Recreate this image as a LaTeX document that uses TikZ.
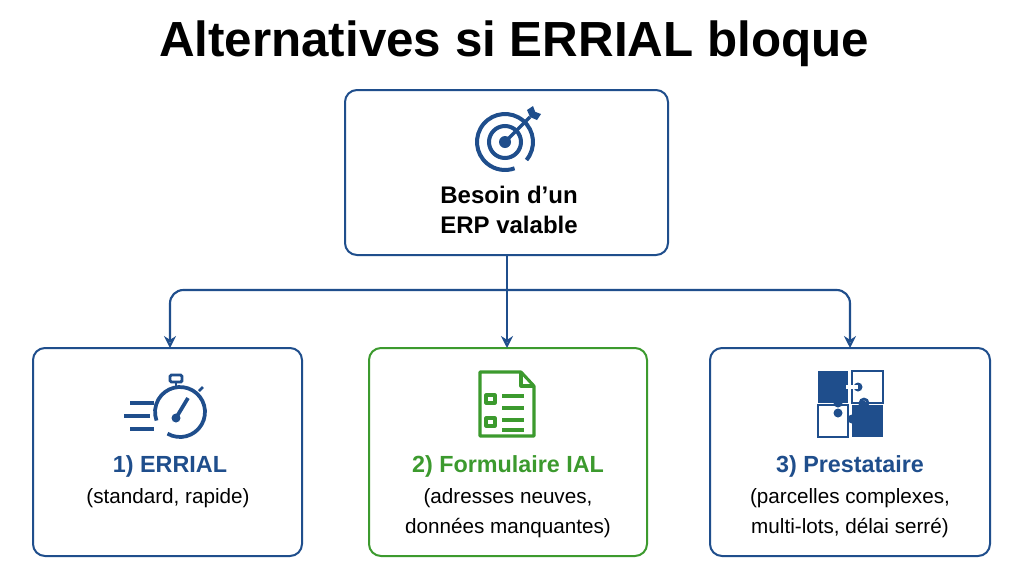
\documentclass[tikz,border=0pt]{standalone}
\usepackage{fontspec}
\setmainfont{Liberation Sans}
\usetikzlibrary{arrows.meta}
\definecolor{blu}{HTML}{1F4E8C}
\definecolor{grn}{HTML}{3C9A2E}
\begin{document}
\begin{tikzpicture}[x=0.75pt,y=-0.75pt,
  box/.style={draw=blu,line width=1.5pt,rounded corners=9pt},
  conn/.style={blu,line width=1.6pt,-{Stealth[length=9pt,width=9pt,open]}},
  ttl/.style={font=\bfseries\fontsize{17.5}{20}\selectfont,anchor=center},
  sub/.style={font=\fontsize{15.5}{22.5}\selectfont,align=center,anchor=north}]
\useasboundingbox (0,0) rectangle (1024,572);
\fill[white] (0,0) rectangle (1024,572);
\node[font=\bfseries\fontsize{37}{40}\selectfont] (title) at (514,44) {Alternatives si ERRIAL bloque};
% boxes
\draw[box] (345,90) rectangle (668,255);
\node[minimum width=323*0.75pt,minimum height=165*0.75pt,inner sep=0pt] (top) at (507,172.5) {};
\node[font=\bfseries\fontsize{18}{23}\selectfont,align=center] (tt) at (509,210) {Besoin d’un\\ERP valable};
\draw[box] (33,348) rectangle (302,556);
\draw[box,draw=grn] (369,348) rectangle (647,556);
\draw[box] (710,348) rectangle (990,556);
\coordinate (b1) at (170,348); \coordinate (b2) at (507,348); \coordinate (b3) at (850,348);
\coordinate (j) at (507,290);
\draw[blu,line width=1.6pt] (top.south) -- (j);
\draw[conn] (j) -- (b2);
\draw[conn,rounded corners=10pt] (j) -- (170,290) -- (b1);
\draw[conn,rounded corners=10pt] (j) -- (850,290) -- (b3);
% texts
\node[ttl,text=blu] (t1) at (170,466) {1) ERRIAL};
\node[sub] (s1) at (168,484) {(standard, rapide)};
\node[ttl,text=grn] (t2) at (508,466) {2) Formulaire IAL};
\node[sub] (s2) at (508,484) {(adresses neuves,\\données manquantes)};
\node[ttl,text=blu] (t3) at (850,466) {3) Prestataire};
\node[sub] (s3) at (850,484) {(parcelles complexes,\\multi-lots, délai serré)};
% target icon
\begin{scope}[blu,line width=3pt]
\draw (505,142) ++(40:28) arc (40:-290:28);
\draw (505,142) circle (16);
\fill (505,142) circle (6);
\draw[line width=2.5pt] (505,142) -- (530,117);
\fill (530,117) -- (527,110) -- (533,106) -- (536,114) -- cycle;
\fill (530,117) -- (537,120) -- (541,114) -- (533,111) -- cycle;
\end{scope}
% stopwatch
\begin{scope}[blu,line width=2.8pt]
\draw (180,412) ++(120:25) arc (120:-200:25);
\draw[line width=2.2pt] (176,382) -- (176,387);
\draw[line width=2.2pt,rounded corners=1pt] (170,375) rectangle (182,382);
\draw[line width=2pt] (199,391) -- (203,387);
\fill (176,418) circle (4.5);
\draw (176,418) -- (188,398);
\draw (130,403) -- (154,403);
\draw (124,416) -- (150,416);
\draw (130,429) -- (154,429);
\end{scope}
% document
\begin{scope}[grn,line width=2.3pt,line join=round]
\draw (480,372) -- (521,372) -- (534,386) -- (534,436) -- (480,436) -- cycle;
\draw (521,372) -- (521,386) -- (534,386);
\draw (486,395) rectangle (495,403);
\draw (486,418) rectangle (495,426);
\draw (502,396) -- (524,396);
\draw (502,408) -- (524,408);
\draw (502,420) -- (524,420);
\draw (502,430) -- (524,430);
\end{scope}
% puzzle
\begin{scope}
\fill[blu] (818,371) rectangle (848,403);
\fill[blu] (852,405) rectangle (883,437);
\draw[blu,line width=2pt] (852,371) rectangle (883,403);
\draw[blu,line width=2pt] (818,405) rectangle (848,437);
\fill[blu] (858,387) circle (4.5);
\fill[blu] (838,403) circle (4.5); \fill[blu] (838,413) circle (4.5);
\draw[blu,line width=2pt] (864,403) circle (4);
\fill[white] (858,387) ++(0,-2) rectangle ++(-12,4);
\fill[blu] (852,419) circle (4.5);
\fill[blu] (863,405) circle (4.5);
\end{scope}
\end{tikzpicture}
\end{document}
